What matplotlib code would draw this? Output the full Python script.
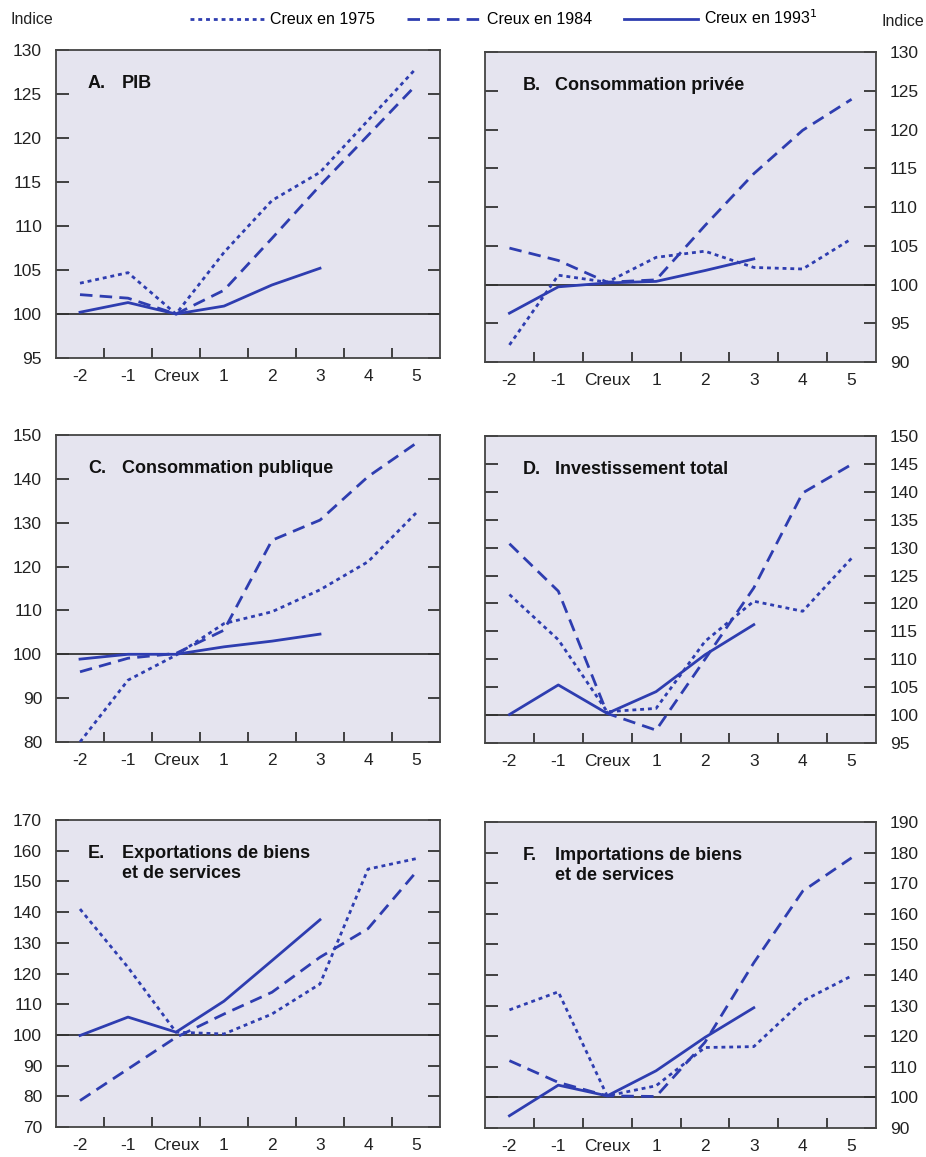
import numpy as np
import matplotlib
matplotlib.use("Agg")
import matplotlib.pyplot as plt
from matplotlib.lines import Line2D

plt.rcParams['font.family'] = ['Liberation Sans Narrow', 'Liberation Sans', 'DejaVu Sans']

categories = ['-2', '-1', 'Creux', '1', '2', '3', '4', '5']

# panel A: PIB
pib_1975 = [103.5, 104.7, 100.0, 107.0, 112.9, 116.1, 122.0, 127.9]
pib_1984 = [102.2, 101.8, 100.0, 102.7, 108.6, 114.6, 120.3, 126.0]
pib_1993 = [100.2, 101.3, 100.0, 100.9, 103.3, 105.2]

# panel B: consommation privee
cpriv_1975 = [92.2, 101.2, 100.3, 103.5, 104.3, 102.2, 102.0, 105.9]
cpriv_1984 = [104.7, 103.1, 100.3, 100.6, 107.6, 114.3, 119.9, 123.9]
cpriv_1993 = [96.3, 99.7, 100.2, 100.4, 101.8, 103.3]

# panel C: consommation publique
cpub_1975 = [80.0, 94.1, 99.8, 107.0, 109.7, 114.7, 121.1, 132.2]
cpub_1984 = [96.0, 99.1, 100.2, 105.5, 126.0, 130.6, 140.5, 148.1]
cpub_1993 = [98.9, 100.0, 100.0, 101.7, 103.0, 104.6]

# panel D: investissement total
inv_1975 = [121.6, 113.5, 100.6, 101.2, 113.2, 120.4, 118.6, 128.1]
inv_1984 = [130.7, 122.2, 100.3, 97.3, 110.0, 122.8, 139.8, 144.9]
inv_1993 = [100.1, 105.4, 100.3, 104.2, 110.8, 116.2]

# panel E: exportations
exp_1975 = [141.0, 122.0, 100.9, 100.3, 106.8, 116.6, 154.0, 157.4]
exp_1984 = [78.6, 88.9, 99.2, 106.8, 113.9, 125.3, 134.6, 153.0]
exp_1993 = [99.8, 105.8, 100.9, 111.0, 124.2, 137.5]

# panel F: importations
imp_1975 = [128.6, 134.5, 100.5, 103.8, 116.3, 116.6, 131.5, 139.7]
imp_1984 = [112.0, 104.9, 100.5, 100.3, 118.0, 144.0, 167.4, 178.3]
imp_1993 = [94.0, 104.0, 100.5, 108.7, 119.6, 129.3]

panels = [
    ('A.', 'PIB', pib_1975, pib_1984, pib_1993, (95, 130), np.arange(95, 131, 5)),
    ('B.', 'Consommation privée', cpriv_1975, cpriv_1984, cpriv_1993, (90, 130), np.arange(90, 131, 5)),
    ('C.', 'Consommation publique', cpub_1975, cpub_1984, cpub_1993, (80, 150), np.arange(80, 151, 10)),
    ('D.', 'Investissement total', inv_1975, inv_1984, inv_1993, (95, 150), np.arange(95, 151, 5)),
    ('E.', 'Exportations de biens\net de services', exp_1975, exp_1984, exp_1993, (70, 170), np.arange(70, 171, 10)),
    ('F.', 'Importations de biens\net de services', imp_1975, imp_1984, imp_1993, (90, 190), np.arange(90, 191, 10)),
]

W, H = 926, 1157
# axes boxes in pixels: left, top, right, bottom
boxes = [
    (56, 50, 440, 358), (485, 52, 876, 362),
    (56, 435, 440, 742), (485, 436, 876, 743),
    (56, 820, 440, 1127), (485, 822, 876, 1128),
]

blue = '#2e3db0'
bg = '#e5e4ef'
dotted = (0, (1.4, 1.4))
dashed = (0, (4.5, 2.6))
title_font = ['Liberation Sans', 'DejaVu Sans']

fig = plt.figure(figsize=(W / 100, H / 100), dpi=100)
x = np.arange(len(categories))

for i, (letter, title, s75, s84, s93, ylim, yt) in enumerate(panels):
    l, t, r, b = boxes[i]
    ax = fig.add_axes([l / W, 1 - b / H, (r - l) / W, (b - t) / H])
    ax.set_facecolor(bg)
    ax.axhline(100, color='#333333', lw=1.3, zorder=1)
    ax.plot(x, s75, color=blue, lw=2, linestyle=dotted, zorder=3)
    ax.plot(x, s84, color=blue, lw=2, linestyle=dashed, zorder=3)
    ax.plot(x[:len(s93)], s93, color=blue, lw=2, zorder=3)
    ax.set_xlim(-0.5, 7.5)
    ax.set_ylim(*ylim)
    ax.set_yticks(yt)
    ax.set_xticks(x)
    ax.set_xticklabels(categories)
    ax.set_xticks(np.arange(0.5, 7, 1), minor=True)
    ax.tick_params(axis='x', which='major', length=0, labelsize=12.5, pad=8, colors='#222222')
    ax.tick_params(axis='x', which='minor', direction='in', length=7, width=1.3, color='#333333')
    right = i % 2 == 1
    ax.tick_params(axis='y', direction='in', length=9, width=1.3, color='#333333',
                   left=True, right=True, labelleft=not right, labelright=right,
                   labelsize=12.5, pad=10, labelcolor='#222222')
    for sp in ax.spines.values():
        sp.set_color('#444444')
        sp.set_linewidth(1.3)

    lx = 0.083 if not right else 0.097
    tx = 0.172 if not right else 0.180
    h_ax = b - t
    ax.text(lx, 1 - 33 / h_ax, letter, transform=ax.transAxes, fontsize=13, fontweight='bold',
            family=title_font, va='center', ha='left', color='#111111')
    for k, line in enumerate(title.split('\n')):
        ax.text(tx, 1 - (33 + 21 * k) / h_ax, line, transform=ax.transAxes, fontsize=13,
                fontweight='bold', family=title_font, va='center', ha='left', color='#111111')

handles = [
    Line2D([], [], color=blue, lw=2, linestyle=dotted),
    Line2D([], [], color=blue, lw=2, linestyle=dashed),
    Line2D([], [], color=blue, lw=2),
]
labels = ['Creux en 1975', 'Creux en 1984', 'Creux en 1993$^{1}$']
fig.legend(handles, labels, loc='center', bbox_to_anchor=(0.544, 1 - 18 / H), ncol=3,
           frameon=False, handlelength=4.6, handletextpad=0.4, columnspacing=2.0,
           prop={'size': 11.5})

fig.text(10 / W, 1 - 20 / H, 'Indice', fontsize=11.5, ha='left', va='center', color='#222222')
fig.text(924 / W, 1 - 22 / H, 'Indice', fontsize=11.5, ha='right', va='center', color='#222222')

fig.savefig('out.png', dpi=100)
